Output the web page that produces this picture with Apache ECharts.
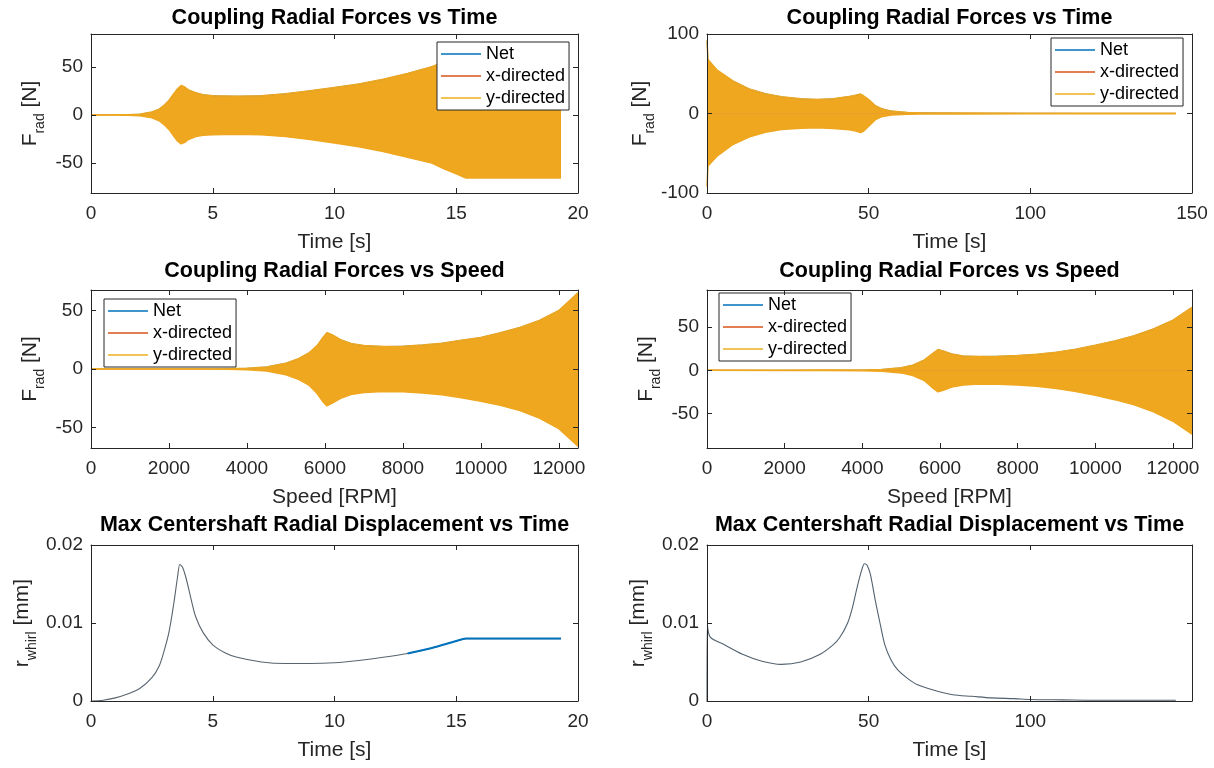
<!DOCTYPE html>
<html><head><meta charset="utf-8">
<script src="https://cdn.jsdelivr.net/npm/echarts@6/dist/echarts.min.js"></script>
<style>html,body{margin:0;padding:0;background:#fff}#c{width:1214px;height:768px}</style>
</head><body><div id="c"></div>
<script>
// ---------- DATA (oscillation drawn as envelope) ----------
// Panel 1: Coupling Radial Forces vs Time (left)
const p1Time  = [0, 1.0, 1.5, 2.0, 2.5, 2.8, 3.0, 3.2, 3.4, 3.55, 3.7, 3.85, 4.0, 4.3, 4.6, 5.0, 6.0, 7.0, 8.0, 9.0, 10.0, 11.0, 12.0, 13.0, 14.0, 14.5, 15.0, 15.4, 17.0, 19.3];
const p1Upper = [0, 0.1, 0.3, 0.8, 3, 6, 10, 15, 22, 27, 30.5, 29, 26, 23, 21, 20, 19.5, 20, 22, 25, 28.5, 32, 37, 43, 50, 55, 60, 65, 65, 65];
const p1Lower = [0, -0.1, -0.3, -0.8, -3, -6, -10, -15, -22, -27, -30, -28.5, -25.5, -22.5, -21, -20.5, -20, -20.5, -22.5, -25.5, -29, -33, -38, -44, -50, -56, -61, -65.5, -65.5, -65.5];
// Panel 2: Coupling Radial Forces vs Time (right)
const p2Time  = [0, 0.3, 3, 8, 13, 18, 23, 29, 34, 39, 44, 46, 47.5, 48.5, 50, 52, 54, 57, 62, 66, 80, 100, 120, 145];
const p2Upper = [92, 68, 55, 41, 31, 25, 21, 18.5, 17.7, 18.5, 21.5, 23, 24.5, 22, 17.5, 10, 6, 3, 1.3, 0.8, 0.5, 0.3, 0.25, 0.2];
const p2Lower = [-92, -66, -54, -39, -29.5, -23.5, -20, -18.5, -18, -19, -20.5, -22, -24, -22, -16, -8, -4, -2, -0.9, -0.7, -0.5, -0.3, -0.25, -0.2];
// Panel 3: Coupling Radial Forces vs Speed (left)
const p3Speed = [0, 2000, 3000, 3500, 4000, 4500, 5000, 5300, 5600, 5800, 5950, 6050, 6200, 6400, 6700, 7000, 7500, 8000, 8500, 9000, 9500, 10000, 10500, 11000, 11500, 12000, 12490];
const p3Upper = [0, 0.05, 0.1, 0.3, 0.6, 1.8, 5, 8.5, 14, 20, 27, 31, 29, 25, 21.5, 20, 19.2, 19.5, 20.5, 22, 24.5, 27, 31, 35.5, 41.5, 50, 65];
const p3Lower = [0, -0.05, -0.1, -0.3, -0.6, -1.8, -5, -8.5, -14, -21, -28, -31.5, -29, -25, -21.5, -20, -19.2, -19.5, -20.5, -22, -24.5, -27.5, -31, -35.5, -42, -51, -66];
// Panel 4: Coupling Radial Forces vs Speed (right)
const p4Speed = [0, 2000, 3000, 4000, 4500, 5000, 5300, 5600, 5800, 5950, 6100, 6300, 6600, 7000, 7500, 8000, 8500, 9000, 9500, 10000, 10500, 11000, 11500, 12000, 12490];
const p4Upper = [0, 0.1, 0.2, 0.4, 1, 3, 6, 12, 19, 24, 22, 19, 16.5, 16, 16.3, 17, 18.5, 21, 24.5, 29, 34, 40, 48, 58, 73];
const p4Lower = [0, -0.1, -0.2, -0.4, -1, -3, -6, -12, -20, -25, -23, -19.5, -17, -16, -16.3, -17, -18.5, -21, -24.5, -29, -34, -40, -48, -59, -74];
// Panel 5: Max Centershaft Radial Displacement vs Time (left)
const p5Time = [0, 0.5, 1.0, 1.5, 2.0, 2.5, 2.8, 3.0, 3.2, 3.4, 3.55, 3.65, 3.75, 3.9, 4.1, 4.3, 4.6, 5.0, 5.5, 6.0, 7.0, 8.0, 9.0, 10.0, 11.0, 12.0, 13.0, 14.0, 15.0, 15.4, 17.0, 19.3];
const p5R    = [0, 0.0001, 0.0004, 0.0009, 0.0016, 0.003, 0.0045, 0.0064, 0.0088, 0.0125, 0.0158, 0.0175, 0.0172, 0.0158, 0.0132, 0.0108, 0.0088, 0.0072, 0.0062, 0.0056, 0.0050, 0.0048, 0.0048, 0.0049, 0.0052, 0.0056, 0.0061, 0.0068, 0.0077, 0.0080, 0.0080, 0.0080];
// Panel 6: Max Centershaft Radial Displacement vs Time (right)
const p6Time = [0, 0.1, 1, 5, 11, 17, 23, 29, 35, 39, 41, 43.5, 45, 46.5, 48, 48.7, 49.5, 50.5, 52, 53.5, 55, 57, 59, 62, 65, 70, 76, 82, 88, 95, 100, 110, 120, 130, 145];
const p6R    = [0, 0.0098, 0.0082, 0.0073, 0.006, 0.0051, 0.0047, 0.0050, 0.0060, 0.0072, 0.0081, 0.0100, 0.0120, 0.0147, 0.0170, 0.0176, 0.0174, 0.0163, 0.0130, 0.0100, 0.0072, 0.0052, 0.0040, 0.0029, 0.0021, 0.0014, 0.0008, 0.0006, 0.0004, 0.0003, 0.0002, 0.00015, 0.0001, 0.0001, 0.0001];

// Tick labels
const ticksTime20   = [0, 5, 10, 15, 20];
const ticksTime150  = [0, 50, 100, 150];
const ticksTime100  = [0, 50, 100];
const ticksSpeed    = [0, 2000, 4000, 6000, 8000, 10000, 12000];
const ticksForce50  = [-50, 0, 50];
const ticksForce100 = [-100, 0, 100];
const ticksDisp     = [0, 0.01, 0.02];

const titles = ['Coupling Radial Forces vs Time', 'Coupling Radial Forces vs Time',
  'Coupling Radial Forces vs Speed', 'Coupling Radial Forces vs Speed',
  'Max Centershaft Radial Displacement vs Time', 'Max Centershaft Radial Displacement vs Time'];
const legendNames = ['Net', 'x-directed', 'y-directed'];

// ---------- STYLE ----------
const FONT = '"Liberation Sans", Arial, Helvetica, sans-serif';
const AX = '#262626';
const C_NET = '#0072BD', C_X = '#D95319', C_Y = '#EDB120', C_FILL = '#EFA71F';

const layout = [
  {left: 91,  top: 34,  width: 487, height: 159},
  {left: 707, top: 34,  width: 485, height: 159},
  {left: 91,  top: 290, width: 487, height: 158},
  {left: 707, top: 290, width: 485, height: 158},
  {left: 91,  top: 545, width: 487, height: 156},
  {left: 707, top: 545, width: 485, height: 156}
];
const panels = [
  {xMin: 0, xMax: 20, xTicks: ticksTime20, yMin: -81, yMax: 84, yTicks: ticksForce50, xName: 'Time [s]', yKind: 'F', titleTop: 7},
  {xMin: 0, xMax: 150, xTicks: ticksTime150, yMin: -100, yMax: 100, yTicks: ticksForce100, xName: 'Time [s]', yKind: 'F', titleTop: 7},
  {xMin: 0, xMax: 12490, xTicks: ticksSpeed, yMin: -67.5, yMax: 67.5, yTicks: ticksForce50, xName: 'Speed [RPM]', yKind: 'F', titleTop: 260},
  {xMin: 0, xMax: 12490, xTicks: ticksSpeed, yMin: -90, yMax: 93, yTicks: ticksForce50, xName: 'Speed [RPM]', yKind: 'F', titleTop: 260},
  {xMin: 0, xMax: 20, xTicks: ticksTime20, yMin: 0, yMax: 0.02, yTicks: ticksDisp, xName: 'Time [s]', yKind: 'r', titleTop: 514},
  {xMin: 0, xMax: 150, xTicks: ticksTime100, yMin: 0, yMax: 0.02, yTicks: ticksDisp, xName: 'Time [s]', yKind: 'r', titleTop: 514}
];
const legendPos = [
  {left: 437, top: 42}, {left: 1051, top: 38}, {left: 104, top: 299}, {left: 719, top: 293}
];

const zip = (xs, ys) => xs.map((x, i) => [x, ys[i]]);
const fmt = v => String(v);

const grid = [], xAxis = [], yAxis = [], series = [], title = [], legend = [];
const tickStyle = {inside: true, length: 5, lineStyle: {color: AX, width: 1}};

panels.forEach((p, gi) => {
  const L = layout[gi];
  grid.push({left: L.left, top: L.top, width: L.width, height: L.height, show: false});
  const labelStyle = {color: AX, fontSize: 19, fontFamily: FONT};
  xAxis.push({type: 'value', gridIndex: gi, position: 'bottom', min: p.xMin, max: p.xMax, z: 5,
    name: p.xName, nameLocation: 'middle', nameGap: 39,
    nameTextStyle: {color: AX, fontSize: 21, fontFamily: FONT},
    axisLine: {show: true, onZero: false, lineStyle: {color: AX, width: 1}},
    axisTick: Object.assign({customValues: p.xTicks}, tickStyle),
    axisLabel: Object.assign({customValues: p.xTicks, formatter: fmt, margin: 11}, labelStyle),
    splitLine: {show: false}});
  xAxis.push({type: 'value', gridIndex: gi, position: 'top', min: p.xMin, max: p.xMax, z: 5,
    axisLine: {show: true, onZero: false, lineStyle: {color: AX, width: 1}},
    axisTick: Object.assign({customValues: p.xTicks}, tickStyle),
    axisLabel: {show: false}, splitLine: {show: false}});
  const yName = p.yKind === 'F' ? '{m|F}{s|rad}{m| [N]}' : '{m|r}{s|whirl}{m| [mm]}';
  yAxis.push({type: 'value', gridIndex: gi, position: 'left', min: p.yMin, max: p.yMax, z: 5,
    name: yName, nameLocation: 'middle', nameGap: p.yKind === 'F' ? 44 : 52,
    nameTextStyle: {color: AX, fontSize: 21, fontFamily: FONT,
      rich: {m: {fontSize: 21, color: AX, fontFamily: FONT, verticalAlign: 'bottom', padding: [0, 0, 6, 0]},
             s: {fontSize: 14, color: AX, fontFamily: FONT, verticalAlign: 'bottom'}}},
    axisLine: {show: true, onZero: false, lineStyle: {color: AX, width: 1}},
    axisTick: Object.assign({customValues: p.yTicks}, tickStyle),
    axisLabel: Object.assign({customValues: p.yTicks, formatter: fmt, margin: 8}, labelStyle),
    splitLine: {show: false}});
  yAxis.push({type: 'value', gridIndex: gi, position: 'right', min: p.yMin, max: p.yMax, z: 5,
    axisLine: {show: true, onZero: false, lineStyle: {color: AX, width: 1}},
    axisTick: Object.assign({customValues: p.yTicks}, tickStyle),
    axisLabel: {show: false}, splitLine: {show: false}});
  title.push({text: titles[gi], left: L.left + L.width / 2, top: p.titleTop, textAlign: 'center', padding: 0,
    textStyle: {fontSize: 21.5, fontWeight: 'bold', color: '#000', fontFamily: FONT}});
});

const bandSets = [
  [p1Time, p1Upper, p1Lower], [p2Time, p2Upper, p2Lower],
  [p3Speed, p3Upper, p3Lower], [p4Speed, p4Upper, p4Lower]
];
bandSets.forEach((b, gi) => {
  const [xs, up, lo] = b;
  const base = {type: 'line', xAxisIndex: 2 * gi, yAxisIndex: 2 * gi, showSymbol: false, silent: true, animation: false};
  // Net (magnitude) follows the upper envelope, drawn underneath
  series.push(Object.assign({}, base, {name: 'Net', data: zip(xs, up),
    itemStyle: {color: C_NET}, lineStyle: {color: C_NET, width: 0.5}}));
  // x-directed band
  [up, lo].forEach(ys => series.push(Object.assign({}, base, {name: 'x-directed', data: zip(xs, ys),
    itemStyle: {color: C_X}, lineStyle: {color: C_X, width: 0},
    areaStyle: {color: C_X, opacity: 1, origin: 'auto'}})));
  // y-directed band (on top)
  [up, lo].forEach(ys => series.push(Object.assign({}, base, {name: 'y-directed', data: zip(xs, ys),
    itemStyle: {color: C_Y}, lineStyle: {color: C_FILL, width: 1.5},
    areaStyle: {color: C_FILL, opacity: 1, origin: 'auto'}})));
  legend.push(Object.assign({}, legendPos[gi], {
    orient: 'vertical', icon: 'rect', itemWidth: 40, itemHeight: 1.5, itemGap: 4,
    padding: [3, 4, 3, 4], borderColor: AX, borderWidth: 1, backgroundColor: '#fff', selectedMode: false,
    textStyle: {fontSize: 18, color: '#000', fontFamily: FONT, lineHeight: 18},
    data: [{name: legendNames[0], itemStyle: {color: C_NET}},
           {name: legendNames[1], itemStyle: {color: C_X}},
           {name: legendNames[2], itemStyle: {color: C_Y}}]}));
});

// Displacement panels
series.push({type: 'line', name: 'r5', xAxisIndex: 8, yAxisIndex: 8, showSymbol: false, smooth: 0.3, animation: false,
  data: zip(p5Time, p5R), lineStyle: {color: '#5a646d', width: 1.1}});
series.push({type: 'line', name: 'r5b', xAxisIndex: 8, yAxisIndex: 8, showSymbol: false, smooth: 0.3, animation: false,
  data: zip(p5Time, p5R).filter(d => d[0] >= 13), lineStyle: {color: C_NET, width: 2}});
series.push({type: 'line', name: 'r6', xAxisIndex: 10, yAxisIndex: 10, showSymbol: false, smooth: 0.3, animation: false,
  data: zip(p6Time, p6R), lineStyle: {color: '#52616e', width: 1.1}});

const chart = echarts.init(document.getElementById('c'), null, {renderer: 'canvas'});
chart.setOption({backgroundColor: '#fff', animation: false, grid, xAxis, yAxis, series, title, legend});
</script></body></html>
